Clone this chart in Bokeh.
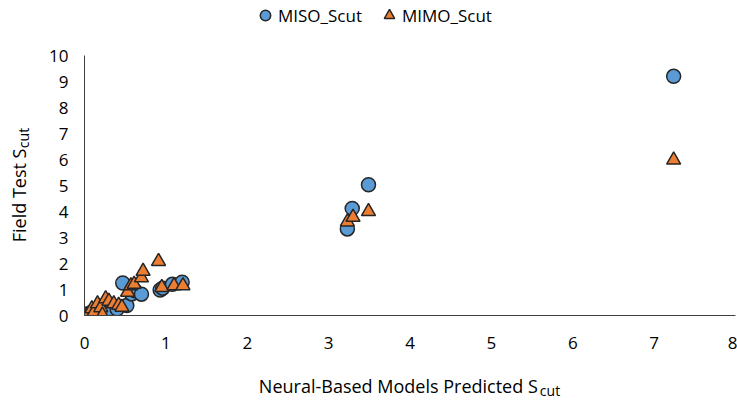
from bokeh.plotting import figure
from bokeh.models import Range1d, Legend, LegendItem, FixedTicker, LinearAxis
from bokeh.embed import file_html
from bokeh.resources import INLINE

miso_x = [0.0, 0.02, 0.05, 0.08, 0.12, 0.18, 0.25, 0.32, 0.40, 0.47, 0.52, 0.58, 0.62, 0.70, 0.93, 0.96, 1.08, 1.20, 3.23, 3.29, 3.49, 7.24]
miso_y = [0.0, 0.02, 0.05, 0.03, 0.10, 0.08, 0.15, 0.13, 0.25, 1.25, 0.38, 0.83, 0.95, 0.82, 0.98, 1.05, 1.20, 1.28, 3.33, 4.12, 5.03, 9.2]

mimo_x = [0.0, 0.02, 0.05, 0.09, 0.12, 0.16, 0.20, 0.22, 0.26, 0.30, 0.36, 0.42, 0.46, 0.53, 0.57, 0.61, 0.70, 0.72, 0.91, 0.95, 1.10, 1.21, 3.23, 3.30, 3.49, 7.24]
mimo_y = [0.0, 0.03, 0.08, 0.26, 0.15, 0.45, 0.30, 0.02, 0.65, 0.55, 0.45, 0.40, 0.32, 0.90, 1.15, 1.20, 1.45, 1.70, 2.08, 1.08, 1.15, 1.15, 3.60, 3.78, 4.00, 5.98]

series_names = ["MISO_Scut", "MIMO_Scut"]
x_ticks = [0, 1, 2, 3, 4, 5, 6, 7, 8]
y_ticks = [0, 1, 2, 3, 4, 5, 6, 7, 8, 9, 10]
x_title, x_sub = "Neural-Based Models Predicted S", "cut"
y_title, y_sub = "Field Test S", "cut"

FONT = "Open Sans"
NB = "\u00a0"

p = figure(width=737, height=403, output_backend="svg", toolbar_location=None,
           x_range=Range1d(0, 8), y_range=Range1d(0, 315 / 26),
           min_border_left=84, min_border_right=2, min_border_top=0, min_border_bottom=88)
p.outline_line_color = None
p.grid.grid_line_color = None
p.background_fill_color = None

xa = p.xaxis[0]
ya = p.yaxis[0]
for ax in (xa, ya):
    ax.axis_line_color = "#404040"
    ax.axis_line_width = 1
    ax.major_tick_line_color = None
    ax.minor_tick_line_color = None
    ax.major_tick_in = 0
    ax.major_tick_out = 0
    ax.minor_tick_in = 0
    ax.minor_tick_out = 0
    ax.major_label_text_font = FONT
    ax.major_label_text_font_size = "17px"
    ax.major_label_text_color = "#000000"

xa.ticker = FixedTicker(ticks=x_ticks)
ya.ticker = FixedTicker(ticks=y_ticks)
ya.bounds = (0, 10)
xa.major_label_standoff = 21
ya.major_label_standoff = 16


def title_axis(label, size, standoff):
    return LinearAxis(ticker=FixedTicker(ticks=[]), axis_line_color=None,
                      major_tick_line_color=None, minor_tick_line_color=None,
                      major_tick_in=0, major_tick_out=0, minor_tick_in=0, minor_tick_out=0,
                      major_label_standoff=0, axis_label=label,
                      axis_label_text_font=FONT, axis_label_text_font_size=size,
                      axis_label_text_font_style="normal", axis_label_text_color="#000000",
                      axis_label_standoff=standoff)


# x title (main, then subscript)
p.add_layout(title_axis(x_title + NB * 5, "18px", 22), "below")
p.add_layout(title_axis(NB * 77 + x_sub, "14px", -20), "below")
# y title (subscript nearest, then main)
p.add_layout(title_axis(NB * 11 + y_sub, "14px", 14), "left")
p.add_layout(title_axis(y_title + NB * 16, "18px", -20), "left")

r1 = p.scatter(miso_x, miso_y, marker="circle", size=14, fill_color="#5B9BD5",
               line_color="#262626", line_width=1.5)
r2 = p.scatter(mimo_x, mimo_y, marker="triangle", size=14, fill_color="#ED7D31",
               line_color="#262626", line_width=1.5)

legend = Legend(items=[LegendItem(label=series_names[0], renderers=[r1]),
                       LegendItem(label=series_names[1], renderers=[r2])],
                orientation="horizontal", location=(168, 287),
                label_text_font=FONT, label_text_font_size="17px", label_text_color="#000000",
                glyph_width=26, glyph_height=26, label_height=26, label_standoff=-8, spacing=14,
                border_line_color=None, background_fill_alpha=0,
                padding=0, margin=0)
p.add_layout(legend)

open("out.html", "w").write(file_html(p, INLINE))
